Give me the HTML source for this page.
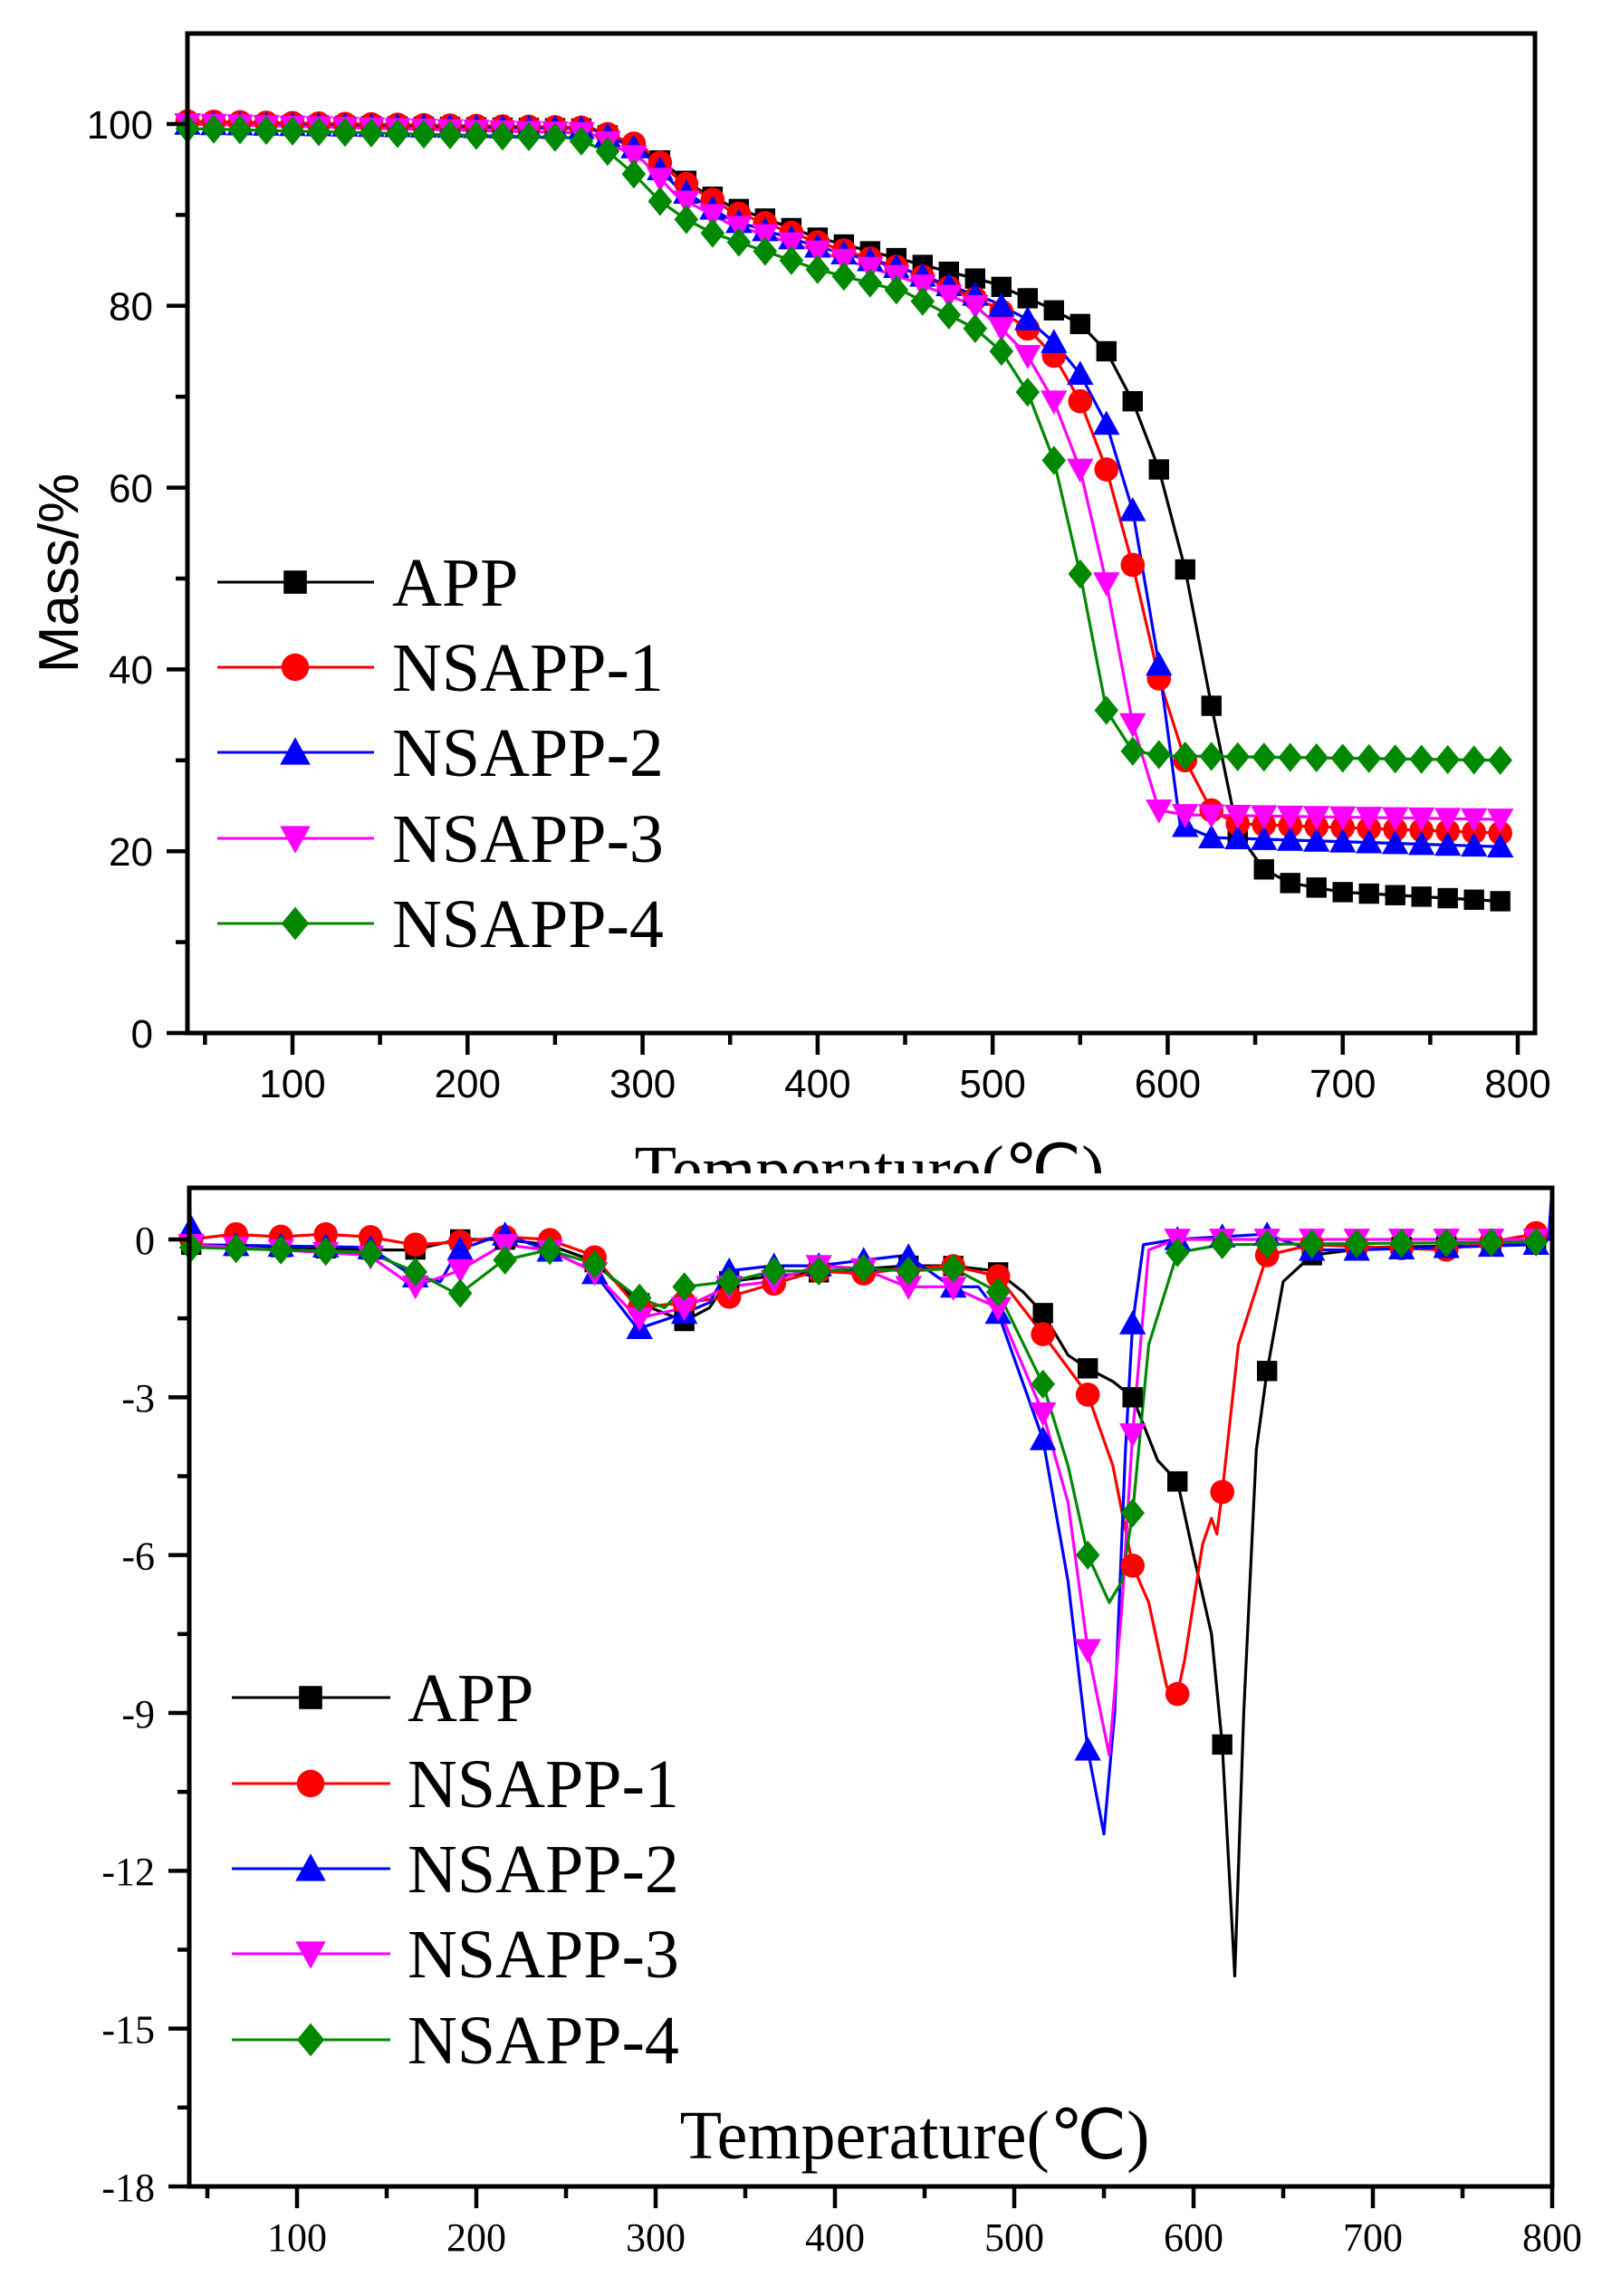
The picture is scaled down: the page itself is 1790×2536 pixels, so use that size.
<!DOCTYPE html>
<html><head><meta charset="utf-8"><style>
html,body{margin:0;padding:0;background:#fff;}
svg{display:block;}
</style></head><body>
<svg id="s" width="1790" height="2536" xmlns="http://www.w3.org/2000/svg">
<rect width="1790" height="2536" fill="#fff"/>
<defs><clipPath id="c1"><rect x="0" y="1200" width="1790" height="96"/></clipPath></defs>
<g id="g"></g>
<text x="960" y="1318" clip-path="url(#c1)" font-family="Liberation Serif, serif" font-size="76" text-anchor="middle">Temperature(℃)</text>
<text transform="translate(86,633) rotate(-90)" font-family="Liberation Sans, sans-serif" font-size="62" text-anchor="middle">Mass/%</text>
<text x="1010" y="2384" font-family="Liberation Serif, serif" font-size="76" text-anchor="middle">Temperature(℃)</text>
</svg>
<script>
var NS="http://www.w3.org/2000/svg",G=document.getElementById('g');
function el(t,a,txt){var e=document.createElementNS(NS,t);for(var k in a)e.setAttribute(k,a[k]);if(txt!=null)e.textContent=txt;G.appendChild(e);return e;}
var cols=['#000','#f00','#00f','#f0f','#080'];
function marker(type,x,y,c,s){
 if(type==0)el('rect',{x:x-s*0.8,y:y-s*0.8,width:s*1.6,height:s*1.6,fill:c});
 else if(type==1)el('circle',{cx:x,cy:y,r:s*0.95,fill:c});
 else if(type==2)el('polygon',{points:(x)+','+(y-s*1.05)+' '+(x+s*1.05)+','+(y+s*0.85)+' '+(x-s*1.05)+','+(y+s*0.85),fill:c});
 else if(type==3)el('polygon',{points:(x)+','+(y+s*1.05)+' '+(x+s*1.05)+','+(y-s*0.85)+' '+(x-s*1.05)+','+(y-s*0.85),fill:c});
 else el('polygon',{points:x+','+(y-s*1.15)+' '+(x+s*0.95)+','+y+' '+x+','+(y+s*1.15)+' '+(x-s*0.95)+','+y,fill:c});
}
function interp(d,t){for(var i=0;i<d.length-1;i++){if(t>=d[i][0]&&t<=d[i+1][0]){var f=(t-d[i][0])/(d[i+1][0]-d[i][0]);return d[i][1]+f*(d[i+1][1]-d[i][1]);}}return t<d[0][0]?d[0][1]:d[d.length-1][1];}
function P(a){var r=[];for(var i=0;i<a.length;i+=2)r.push([a[i],a[i+1]]);return r;}
function chart(o){
 var X=function(t){return o.x0+(t-o.t0)*o.sx;},Y=function(v){return o.y0+(v-o.v0)*o.sy;};
 for(var k=0;k<5;k++){var d=o.data[k],pts=d.map(function(p){return X(p[0]).toFixed(1)+','+Y(p[1]).toFixed(1);}).join(' ');
  el('polyline',{points:pts,fill:'none',stroke:cols[k],'stroke-width':3.2,'stroke-linejoin':'round'});}
 for(var k=0;k<5;k++){var d=o.data[k];for(var t=o.m0;t<=o.m1;t+=o.ms){marker(k,X(t),Y(interp(d,t)),cols[k],o.msz);}}
 el('rect',{x:o.L,y:o.T,width:o.R-o.L,height:o.B-o.T,fill:'none',stroke:'#000','stroke-width':5});
 for(var t=50;t<=800;t+=50){var x=X(t),maj=t%100==0;el('line',{x1:x,y1:o.B,x2:x,y2:o.B+(maj?24:13),stroke:'#000','stroke-width':4.5});
  if(maj)el('text',{x:x,y:o.xly,'font-family':o.ff,'font-size':o.fs,'text-anchor':'middle'},String(t));}
 for(var v=o.yv0;v<=o.yv1+1e-9;v+=o.ystep/2){var y=Y(v),maj=Math.abs((v-o.yv0)%o.ystep)<1e-6;
  el('line',{x1:o.L,y1:y,x2:o.L-(maj?23:13),y2:y,stroke:'#000','stroke-width':4.5});
  if(maj)el('text',{x:o.ylx,y:y+o.fs*0.36,'font-family':o.ff,'font-size':o.fs,'text-anchor':'end'},String(v));}
 var names=['APP','NSAPP-1','NSAPP-2','NSAPP-3','NSAPP-4'];
 for(var k=0;k<5;k++){var y=o.lg.y[k];el('line',{x1:o.lg.x1,y1:y,x2:o.lg.x2,y2:y,stroke:cols[k],'stroke-width':3});
  marker(k,o.lg.m,y,cols[k],16);
  el('text',{x:o.lg.tx,y:y+26,'font-family':'Liberation Serif, serif','font-size':76},names[k]);}
}
var tg=[
P([40,100,270,99.5,290,98,310,96,330,93,350,91,400,87.5,450,85,500,82.5,530,80,550,78,565,75,580,69.5,595,62,610,51,625,36,640,22,655,18,670,16.5,700,15.5,790,14.5]),
P([40,100.3,270,99.6,300,97.5,320,94,350,90.5,400,87,450,84,500,80,520,77.5,535,74.5,550,69.5,565,62,580,51.5,595,39,610,30,625,24.5,640,23,790,22]),
P([40,100,270,99.5,300,97,320,93,350,89.5,400,86.5,450,84,500,80.5,520,78.5,535,76,550,72.5,565,67,580,57.5,595,40.5,607,23,625,21.5,790,20.5]),
P([40,100,270,99,300,96,320,92,350,89,400,86,450,83,490,80,505,77.5,520,74.5,535,69.5,550,62,565,49.5,580,34,595,24.5,610,24,790,23.5]),
P([40,99.5,260,98.5,280,97,295,94.5,310,91.5,325,89.5,340,88,355,87,400,84,450,81.5,475,79,490,77.5,505,75,520,70.5,535,63,550,50.5,565,35.5,580,31,600,30.5,790,30])];
chart({data:tg,x0:323,t0:100,sx:(1676-323)/700,y0:1141,v0:0,sy:-(1141-137)/100,L:207,R:1695,T:37,B:1141,
 m0:40,m1:790,ms:15,msz:14,xly:1212,ylx:169,ff:'Liberation Sans, sans-serif',fs:44,yv0:0,yv1:100,ystep:20,
 lg:{x1:240,x2:413,m:326,tx:433,y:[643,737,831,926,1020]}});
var dtg=[
P([40,-0.1,150,-0.2,165,-0.2,190,0,215,0,240,-0.1,265,-0.4,290,-1.2,316,-1.55,330,-1.3,340,-0.8,365,-0.7,400,-0.6,440,-0.5,465,-0.5,490,-0.6,505,-1,516,-1.4,530,-2.2,541,-2.45,555,-2.7,566,-3.0,580,-4.2,591,-4.6,600,-6,610,-7.5,616,-9.6,623,-14,628,-9,635,-4,641,-2.5,650,-0.8,666,-0.3,700,-0.15,790,-0.1,798,0]),
P([40,0,65,0.1,90,0.05,115,0.1,140,0.05,165,-0.1,190,-0.05,215,0.05,240,0,265,-0.3,290,-1.3,316,-1.2,340,-1.1,365,-0.85,390,-0.6,415,-0.65,440,-0.55,465,-0.5,491,-0.7,516,-1.8,541,-2.95,555,-4.3,566,-6.2,575,-6.9,585,-8.5,590,-8.8,595,-8,605,-5.8,610,-5.3,613,-5.6,616,-4.8,625,-2,641,-0.3,666,-0.1,740,-0.2,790,0.1,795,0.2]),
P([40,0.3,45,-0.1,140,-0.15,165,-0.7,180,-0.8,190,-0.2,215,0.1,240,-0.2,265,-0.6,290,-1.7,316,-1.4,330,-1.2,340,-0.6,365,-0.5,390,-0.5,415,-0.4,440,-0.3,465,-0.9,480,-0.9,491,-1.4,516,-3.8,530,-6.5,541,-9.7,550,-11.3,556,-9,562,-4,566,-1.6,572,-0.1,590,0,640,0.1,666,-0.2,690,-0.2,790,-0.1,798,0,800,1]),
P([40,-0.1,140,-0.3,165,-0.9,190,-0.6,215,-0.1,240,-0.2,265,-0.6,290,-1.5,316,-1.3,340,-0.9,365,-0.8,390,-0.5,415,-0.55,440,-0.9,465,-0.9,491,-1.3,516,-3.3,530,-5,541,-7.8,553,-9.8,560,-7,566,-3.7,575,-0.2,590,0,790,0]),
P([40,-0.15,140,-0.25,165,-0.6,190,-1.05,215,-0.4,240,-0.2,265,-0.45,290,-1.1,305,-1.3,316,-0.9,341,-0.8,366,-0.6,391,-0.6,416,-0.55,441,-0.6,466,-0.55,491,-1.0,516,-2.75,530,-4.3,541,-6.0,553,-6.9,560,-6.5,566,-5.2,575,-2,591,-0.25,616,-0.1,790,-0.05])];
chart({data:dtg,x0:328,t0:100,sx:(1714-328)/700,y0:1369,v0:0,sy:-(2415-1369)/18,L:209,R:1714,T:1312,B:2415,
 m0:41,m1:791,ms:25,msz:14,xly:2486,ylx:171,ff:'Liberation Serif, serif',fs:44,yv0:-18,yv1:0,ystep:3,
 lg:{x1:256,x2:431,m:343,tx:450,y:[1875,1970,2064,2158,2253]}});
</script>
</body></html>
